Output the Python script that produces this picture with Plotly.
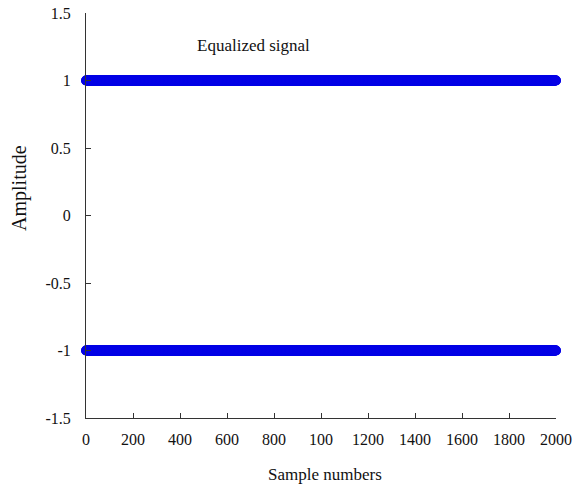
import plotly.graph_objects as go

# Data
sample_numbers = list(range(0, 2001))
upper_level = [1.0] * len(sample_numbers)
lower_level = [-1.0] * len(sample_numbers)

x_tick_vals = [0, 200, 400, 600, 800, 1000, 1200, 1400, 1600, 1800, 2000]
x_tick_text = ["0", "200", "400", "600", "800", "100", "1200", "1400", "1600", "1800", "2000"]
y_tick_vals = [-1.5, -1, -0.5, 0, 0.5, 1, 1.5]
y_tick_text = ["-1.5", "-1", "-0.5", "0", "0.5", "1", "1.5"]

font_family = "Liberation Serif, Times New Roman, serif"
blue = "#0500e6"

fig = go.Figure()
for lvl in (upper_level, lower_level):
    fig.add_trace(go.Scatter(
        x=sample_numbers, y=lvl, mode="markers",
        marker=dict(size=10, color=blue, line=dict(width=0)),
        showlegend=False, hoverinfo="skip", cliponaxis=False,
    ))

fig.add_annotation(
    x=711, y=1.263, xref="x", yref="y", text="Equalized signal",
    showarrow=False, font=dict(family=font_family, size=17, color="#111"),
)
# axis titles
fig.add_annotation(
    x=-0.1404, y=0.568, xref="paper", yref="paper", text="Amplitude",
    textangle=-90, xanchor="center", yanchor="middle", showarrow=False,
    font=dict(family=font_family, size=20, color="#111"),
)
fig.add_annotation(
    x=0.5085, y=-0.1407, xref="paper", yref="paper", text="Sample numbers",
    xanchor="center", yanchor="middle", showarrow=False,
    font=dict(family=font_family, size=17, color="#111"),
)

axis_common = dict(
    showline=True, linecolor="#333", linewidth=1, showgrid=False, zeroline=False,
    ticks="inside", ticklen=5, tickcolor="#333", mirror=False, automargin=False,
    ticklabeloverflow="allow",
    tickfont=dict(family=font_family, size=16, color="#111"),
)

fig.update_layout(
    width=582, height=487,
    margin=dict(l=86, r=26, t=13, b=69),
    paper_bgcolor="white", plot_bgcolor="white",
    xaxis=dict(range=[0, 2000], tickvals=x_tick_vals, ticktext=x_tick_text,
               ticklabelstandoff=7, **axis_common),
    yaxis=dict(range=[-1.5, 1.5], tickvals=y_tick_vals, ticktext=y_tick_text,
               ticklabelstandoff=11, **axis_common),
)

fig.write_html(
    "out.html",
    config={"displayModeBar": False},
    post_script="document.body.style.margin='0';document.body.style.overflow='hidden';",
)
